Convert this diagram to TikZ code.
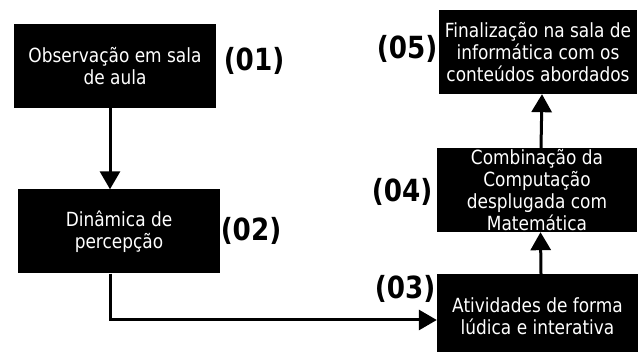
\documentclass[tikz,border=0pt]{standalone}
\usepackage{fontspec}
\setmainfont{DejaVu Sans}[FakeStretch=0.87]
\newfontfamily\numfont{DejaVu Sans}[FakeStretch=0.86]
\usetikzlibrary{arrows.meta}
\tikzset{
  etapa/.style={fill=black,text=white,inner sep=0pt,align=center,
    minimum width=202pt,minimum height=84pt,
    font=\fontsize{19.5}{22}\selectfont},
  numero/.style={font=\numfont\bfseries\fontsize{30.5}{32}\selectfont},
  seta/.style={line width=3pt,-{Triangle[width=20pt,length=18pt]}}
}
\begin{document}
\begin{tikzpicture}[x=1pt,y=1pt]
      \useasboundingbox (0,0) rectangle (638,352);
      \path (115,286) node[etapa] (obs) {Observação em sala\\de aula};
      \path (119,120.5) node[etapa] (din) {Dinâmica de\\percepção};
      \path (537.5,36) node[etapa,minimum width=201pt] (ativ) {Atividades de forma\\lúdica e interativa};
      \path (537,162) node[etapa,minimum width=200pt] (comb) {Combinação da\\Computação\\desplugada com\\Matemática};
      \path (538,300) node[etapa,minimum width=198pt] (fin) {Finalização na sala de\\informática com os\\conteúdos abordados};
      \path (254,291) node[numero] (n01) {(01)};
      \path (251,121) node[numero] (n02) {(02)};
      \path (405,63) node[numero] (n03) {(03)};
      \path (402,160.5) node[numero] (n04) {(04)};
      \path (407,303) node[numero] (n05) {(05)};
      \draw[seta] ([xshift=-5pt]obs.south) -- ([xshift=-9pt]din.north);
      \draw[seta] ([xshift=-9pt]din.south) |- ([yshift=-4pt]ativ.west);
      \draw[seta] ([xshift=3.5pt]ativ.north) -- ([xshift=3.5pt]comb.south);
      \draw[seta] ([xshift=4pt]comb.north) -- ([xshift=4pt]fin.south);
\end{tikzpicture}
\end{document}
